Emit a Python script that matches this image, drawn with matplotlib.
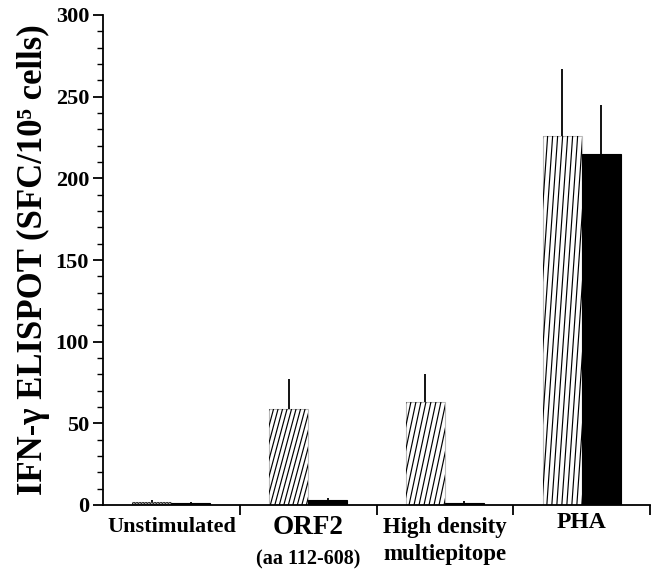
import matplotlib
matplotlib.use("Agg")
import matplotlib.pyplot as plt
import numpy as np
from matplotlib.lines import Line2D

categories = ["Unstimulated", "ORF2", "High density", "PHA"]
hatched_vals = [2, 59, 63, 226]
hatched_err = [1, 18, 17, 41]
black_vals = [1, 3, 1.5, 215]
black_err = [0.7, 1.5, 0.8, 30]
hatch_angles = [60, 15, 12, 4]   # degrees from vertical (styling)
hatch_spacing = [3, 4.5, 5, 5]   # px

plt.rcParams['font.family'] = ['Liberation Serif', 'DejaVu Serif']
plt.rcParams['font.weight'] = 'bold'

fig = plt.figure(figsize=(6.54, 5.74), dpi=100)
ax = fig.add_axes([103/654, 1-505/574, (650-103)/654, (505-15)/574])

x = np.arange(len(categories)) + 0.5
w = 0.285
hb = ax.bar(x - w/2, hatched_vals, w, color='white', edgecolor='#bbbbbb', linewidth=0.8,
            yerr=[[0]*4, hatched_err], error_kw=dict(ecolor='black', elinewidth=1.3, capsize=0), zorder=2)
bb = ax.bar(x + w/2, black_vals, w, color='black', edgecolor='black', linewidth=0.8,
            yerr=[[0]*4, black_err], error_kw=dict(ecolor='black', elinewidth=1.3, capsize=0), zorder=2)

ax.set_xlim(0, 4)
ax.set_ylim(0, 300)

# custom steep hatching clipped to each hatched bar
W_px = 650 - 103
H_px = 505 - 15
xpp = 4 / W_px
ypp = 300 / H_px
for i, p in enumerate(hb.patches):
    x0 = p.get_x()
    x1 = x0 + p.get_width()
    h = p.get_height()
    ang = np.deg2rad(hatch_angles[i])
    hpx = h / ypp
    shift = np.tan(ang) * hpx * xpp
    s = hatch_spacing[i] * xpp
    xs = np.arange(x0 - shift - s, x1 + s, s)
    for xx in xs:
        ln = Line2D([xx, xx + shift], [0, h], color='black', linewidth=0.85 if i else 0.6, zorder=3)
        ax.add_line(ln)
        ln.set_clip_path(p.get_path(), p.get_transform())

for s in ['top', 'right']:
    ax.spines[s].set_visible(False)
for s in ['left', 'bottom']:
    ax.spines[s].set_linewidth(1.3)

ax.set_yticks(np.arange(0, 301, 50))
ax.set_yticks(np.arange(0, 301, 10), minor=True)
ax.tick_params(axis='y', which='major', direction='out', length=7, width=1.3, labelsize=16, pad=3)
ax.tick_params(axis='y', which='minor', direction='out', length=4, width=1.0)
ax.set_xticks([1, 2, 3, 4])
ax.set_xticklabels([])
ax.tick_params(axis='x', which='major', direction='out', length=7, width=1.3)
for lab in ax.get_yticklabels():
    lab.set_fontweight('bold')

ax.set_ylabel('IFN-γ ELISPOT (SFC/10⁵ cells)', fontsize=25, fontweight='bold', labelpad=4)

tr = ax.get_xaxis_transform()
ax.text(0.5, -0.025, "Unstimulated", transform=tr, ha='center', va='top', fontsize=16, fontweight='bold')
ax.text(1.5, -0.02, "ORF2", transform=tr, ha='center', va='top', fontsize=19.5, fontweight='bold')
ax.text(1.5, -0.09, "(aa 112-608)", transform=tr, ha='center', va='top', fontsize=14.5, fontweight='bold')
ax.text(2.5, -0.025, "High density\nmultiepitope", transform=tr, ha='center', va='top', fontsize=16.5, fontweight='bold', linespacing=1.35)
ax.text(3.5, -0.015, "PHA", transform=tr, ha='center', va='top', fontsize=17, fontweight='bold')

fig.savefig('out.png', dpi=100)
